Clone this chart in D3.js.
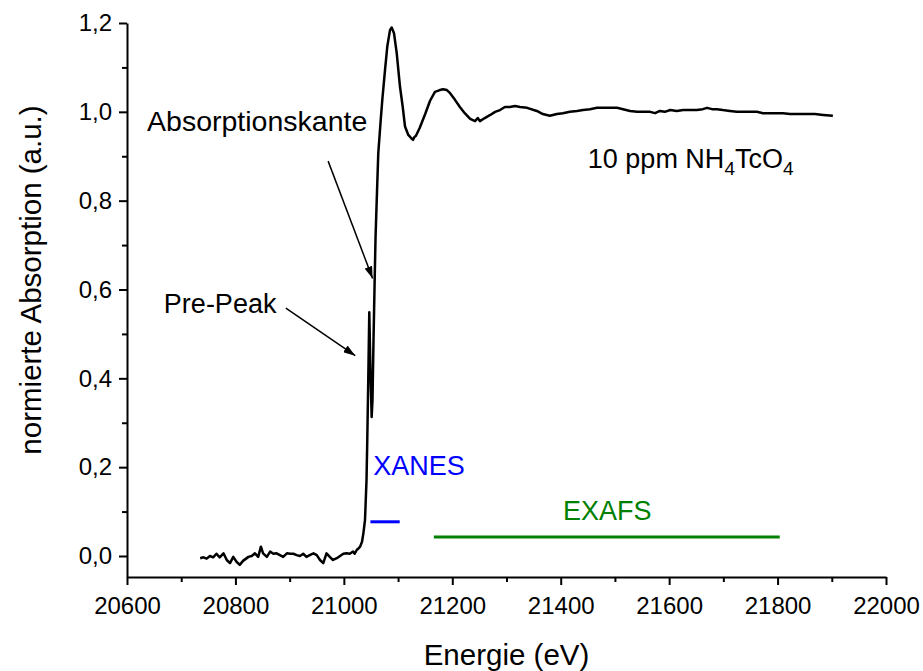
<!DOCTYPE html>
<html>
<head>
<meta charset="utf-8">
<script src="https://cdn.jsdelivr.net/npm/d3@7"></script>
<style>
  html, body { margin: 0; padding: 0; background: #fff; }
  svg { display: block; font-family: "Liberation Sans", Arial, sans-serif; }
</style>
</head>
<body>
<svg id="chart" width="923" height="671"></svg>
<script>
// Tc K-edge XAS spectrum of 10 ppm NH4TcO4 (normalised)
const energy = [
  20735, 20741, 20747, 20753, 20759, 20765, 20771, 20778, 20784, 20790,
  20796, 20802, 20808, 20814, 20824, 20830, 20836, 20842, 20847, 20851,
  20858, 20864, 20870, 20876, 20882, 20888, 20895, 20901, 20907, 20913,
  20919, 20925, 20931, 20937, 20944, 20950, 20956, 20962, 20968, 20974,
  20980, 20987, 20993, 20999, 21005, 21011, 21017, 21020, 21024, 21027,
  21030, 21033.5, 21036, 21039, 21041.8, 21043.2, 21045, 21046.9, 21049, 21051.3,
  21052.8, 21054.7, 21056.9, 21058.5, 21060.6, 21063.5, 21068, 21070.9, 21075.9, 21080.1,
  21085.1, 21088.2, 21092.5, 21097.5, 21103.5, 21108.5, 21112.8, 21118.9, 21124, 21127.5,
  21130, 21133, 21140, 21150, 21159, 21168, 21177, 21183, 21190, 21196,
  21205, 21214, 21223, 21233, 21242, 21247, 21251, 21260, 21270, 21279,
  21288, 21297, 21306, 21316, 21325, 21338, 21356, 21367, 21380, 21393,
  21404, 21417, 21430, 21441, 21454, 21467, 21478, 21491, 21504, 21515,
  21528, 21541, 21552, 21565, 21574, 21583, 21592, 21602, 21614, 21626,
  21638, 21651, 21662, 21670, 21679, 21688, 21699, 21712, 21725, 21736,
  21749, 21762, 21773, 21786, 21799, 21810, 21823, 21836, 21847, 21860,
  21869, 21884, 21902
];
const absorption = [
  -0.005, -0.003, -0.006, 0.000, -0.003, 0.005, -0.003, 0.006, -0.009, -0.016,
  -0.002, -0.013, -0.020, -0.011, -0.002, 0.000, 0.006, -0.002, 0.021, 0.006,
  -0.002, 0.010, 0.005, 0.006, 0.002, -0.002, 0.006, 0.005, 0.005, 0.002,
  0.000, 0.005, -0.002, 0.002, 0.006, 0.002, -0.009, -0.016, 0.006, -0.002,
  -0.009, -0.005, 0.000, 0.005, 0.006, 0.005, 0.010, 0.005, 0.014, 0.017,
  0.021, 0.032, 0.051, 0.081, 0.171, 0.261, 0.396, 0.549, 0.419, 0.313,
  0.351, 0.486, 0.626, 0.720, 0.800, 0.907, 0.982, 1.027, 1.094, 1.147,
  1.184, 1.190, 1.177, 1.132, 1.057, 1.012, 0.967, 0.948, 0.941, 0.937,
  0.943, 0.946, 0.964, 0.995, 1.025, 1.045, 1.049, 1.051, 1.049, 1.042,
  1.027, 1.011, 0.997, 0.984, 0.979, 0.986, 0.979, 0.986, 0.993, 1.000,
  1.004, 1.011, 1.011, 1.013, 1.011, 1.009, 1.002, 0.995, 0.991, 0.995,
  0.997, 1.000, 1.002, 1.004, 1.006, 1.009, 1.009, 1.009, 1.009, 1.006,
  1.002, 1.000, 1.000, 1.000, 0.997, 1.002, 1.000, 1.004, 1.002, 1.004,
  1.004, 1.004, 1.006, 1.009, 1.006, 1.006, 1.004, 1.002, 1.000, 1.000,
  1.000, 1.000, 0.997, 0.997, 0.997, 0.997, 0.995, 0.995, 0.995, 0.995,
  0.995, 0.993, 0.991
];

const xTicks = [20600, 20800, 21000, 21200, 21400, 21600, 21800, 22000];
const xMinorTicks = [20700, 20900, 21100, 21300, 21500, 21700, 21900];
const yTicks = [0.0, 0.2, 0.4, 0.6, 0.8, 1.0, 1.2];
const yMinorTicks = [0.1, 0.3, 0.5, 0.7, 0.9, 1.1];

// energy regions marked below the spectrum
const xanesRange = [21049, 21103];
const xanesLevel = 0.077;
const exafsRange = [21166, 21804];
const exafsLevel = 0.043;

const svg = d3.select("#chart");
const plotLeft = 127, plotRight = 886, plotTop = 23, plotBottom = 577;

const x = d3.scaleLinear().domain([20600, 22000]).range([plotLeft, plotRight]);
const y = d3.scaleLinear().domain([-0.0473, 1.2]).range([plotBottom, plotTop]);

const comma = v => d3.format(".1f")(v).replace(".", ",");

// axes
svg.append("g").attr("transform", `translate(0,${plotBottom})`)
  .call(d3.axisBottom(x).tickValues(xTicks).tickFormat(d3.format("d")).tickSize(8).tickSizeOuter(0).tickPadding(12));
svg.append("g").attr("transform", `translate(0,${plotBottom})`)
  .call(d3.axisBottom(x).tickValues(xMinorTicks).tickFormat("").tickSize(5))
  .select(".domain").remove();
svg.append("g").attr("transform", `translate(${plotLeft},0)`)
  .call(d3.axisLeft(y).tickValues(yTicks).tickFormat(comma).tickSize(8).tickSizeOuter(0).tickPadding(7));
svg.append("g").attr("transform", `translate(${plotLeft},0)`)
  .call(d3.axisLeft(y).tickValues(yMinorTicks).tickFormat("").tickSize(5))
  .select(".domain").remove();

svg.selectAll(".domain, .tick line").attr("stroke", "#000").attr("stroke-width", 2);
svg.selectAll(".tick text").attr("fill", "#000").attr("font-size", 24)
  .attr("font-family", "'Liberation Sans', Arial, sans-serif");

// axis titles
svg.append("text")
  .attr("x", (plotLeft + plotRight) / 2).attr("y", 665)
  .attr("text-anchor", "middle").attr("font-size", 29.5)
  .text("Energie (eV)");
svg.append("text")
  .attr("transform", `translate(41,280) rotate(-90)`)
  .attr("text-anchor", "middle").attr("font-size", 29.5)
  .text("normierte Absorption (a.u.)");

// spectrum
const pts = energy.map((e, i) => [e, absorption[i]]);
svg.append("path")
  .datum(pts)
  .attr("fill", "none").attr("stroke", "#000").attr("stroke-width", 2.5)
  .attr("stroke-linejoin", "round")
  .attr("d", d3.line().x(d => x(d[0])).y(d => y(d[1])));

// region bars
svg.append("line")
  .attr("x1", x(xanesRange[0])).attr("x2", x(xanesRange[1]))
  .attr("y1", y(xanesLevel)).attr("y2", y(xanesLevel))
  .attr("stroke", "#0000ff").attr("stroke-width", 3);
svg.append("line")
  .attr("x1", x(exafsRange[0])).attr("x2", x(exafsRange[1]))
  .attr("y1", y(exafsLevel)).attr("y2", y(exafsLevel))
  .attr("stroke", "#008000").attr("stroke-width", 3);

svg.append("text").attr("x", x(21054)).attr("y", y(0.182))
  .attr("font-size", 27).attr("fill", "#0000ff").text("XANES");
svg.append("text").attr("x", x(21404)).attr("y", y(0.081))
  .attr("font-size", 27).attr("fill", "#008000").text("EXAFS");

// annotations
svg.append("defs").append("marker")
  .attr("id", "head").attr("viewBox", "0 0 12 8")
  .attr("refX", 12).attr("refY", 4)
  .attr("markerWidth", 12).attr("markerHeight", 8)
  .attr("markerUnits", "userSpaceOnUse").attr("orient", "auto")
  .append("path").attr("d", "M0,0 L12,4 L0,8 Z").attr("fill", "#000");

const arrows = [
  { from: [20971, 0.889], to: [21053, 0.625] },
  { from: [20893, 0.558], to: [21021, 0.451] }
];
svg.selectAll(".arrow").data(arrows).enter().append("line")
  .attr("class", "arrow")
  .attr("x1", d => x(d.from[0])).attr("y1", d => y(d.from[1]))
  .attr("x2", d => x(d.to[0])).attr("y2", d => y(d.to[1]))
  .attr("stroke", "#000").attr("stroke-width", 1.5)
  .attr("marker-end", "url(#head)");

svg.append("text").attr("x", x(20637)).attr("y", y(0.957))
  .attr("font-size", 28.5).text("Absorptionskante");
svg.append("text").attr("x", x(20668)).attr("y", y(0.548))
  .attr("font-size", 27).text("Pre-Peak");

const sample = svg.append("text").attr("x", x(21450)).attr("y", y(0.874))
  .attr("font-size", 27);
sample.append("tspan").text("10 ppm NH");
sample.append("tspan").attr("font-size", 19).attr("dy", 7).text("4");
sample.append("tspan").attr("dy", -7).text("TcO");
sample.append("tspan").attr("font-size", 19).attr("dy", 7).text("4");
</script>
</body>
</html>
